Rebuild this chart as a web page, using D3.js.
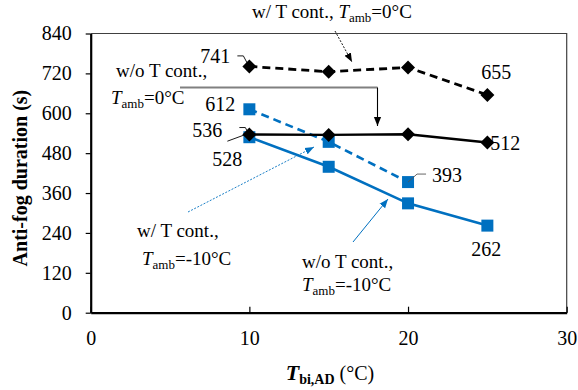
<!DOCTYPE html>
<html>
<head>
<meta charset="utf-8">
<script src="https://cdn.jsdelivr.net/npm/d3@7"></script>
<style>
  html,body{margin:0;padding:0;background:#fff;}
  svg{display:block;font-family:"Liberation Serif","Times New Roman",serif;}
</style>
</head>
<body>
<div id="chart"></div>
<script>
// chart values
const tbi = [10, 15, 20, 25];
const wCont0 = [741, 725, 738, 655];        // w/ T cont., Tamb=0
const woCont0 = [536, 535, 537, 512];       // w/o T cont., Tamb=0
const wContM10 = [612, 514, 393];           // w/ T cont., Tamb=-10
const woContM10 = [528, 439, 329, 262];     // w/o T cont., Tamb=-10
const yTicks = [0, 120, 240, 360, 480, 600, 720, 840];
const xTicks = [0, 10, 20, 30];

const W = 578, H = 390;
const L = 90.7, R = 566.7, T = 33.5, B = 312.7;
const BLUE = '#0070C0';
const SERIF = '"Liberation Serif","Times New Roman",serif';

const svg = d3.select('#chart').append('svg').attr('width', W).attr('height', H);
const x = d3.scaleLinear().domain([0, 30]).range([L, R]);
const y = d3.scaleLinear().domain([0, 840]).range([B, T]);

const defs = svg.append('defs');
function arrow(id, color, size){
  defs.append('marker').attr('id', id).attr('viewBox', '0 0 10 10')
    .attr('refX', 10).attr('refY', 5).attr('markerWidth', size).attr('markerHeight', size)
    .attr('markerUnits', 'userSpaceOnUse').attr('orient', 'auto')
    .append('path').attr('d', 'M0,1 L10,5 L0,9 Z').attr('fill', color);
}
arrow('ahK', '#000', 9);
arrow('ahB', BLUE, 9);

// frame (top / right thin)
svg.append('path').attr('d', `M${L},${T}H${R}V${B}`).attr('fill', 'none')
  .attr('stroke', '#404040').attr('stroke-width', 1.2);

// axes
const gy = svg.append('g').attr('transform', `translate(${L},0)`)
  .call(d3.axisLeft(y).tickValues(yTicks).tickSize(5).tickSizeOuter(0).tickPadding(14));
const gx = svg.append('g').attr('transform', `translate(0,${B})`)
  .call(d3.axisBottom(x).tickValues(xTicks).tickSize(-6).tickSizeOuter(0).tickPadding(18));
[gx, gy].forEach(g => {
  g.attr('font-family', SERIF).attr('font-size', 20);
  g.select('.domain').attr('stroke', '#000').attr('stroke-width', 2.2);
  g.selectAll('.tick line').attr('stroke', '#000').attr('stroke-width', 1.2);
  g.selectAll('.tick text').attr('fill', '#000');
});

// axis titles
svg.append('text').attr('transform', `translate(22,${(T + B) / 2 + 5}) rotate(-90)`)
  .attr('text-anchor', 'middle').attr('dominant-baseline', 'middle')
  .style('font-size', '20px').style('font-weight', 'bold').text('Anti-fog duration (s)');
const xt = svg.append('text').attr('x', 330).attr('y', 380).attr('text-anchor', 'middle')
  .style('font-size', '20px');
xt.append('tspan').style('font-weight', 'bold').style('font-style', 'italic').style('font-size', '22px').text('T');
xt.append('tspan').style('font-weight', 'bold').style('font-size', '14px').attr('dy', 4).text('bi,AD');
xt.append('tspan').attr('dy', -4).text(' (°C)');

// series
const line = d3.line().x((d, i) => x(tbi[i])).y(d => y(d));
function series(vals, color, width, dash, shape){
  svg.append('path').datum(vals).attr('d', line).attr('fill', 'none')
    .attr('stroke', color).attr('stroke-width', width).attr('stroke-dasharray', dash);
  svg.append('g').selectAll('path').data(vals).join('path')
    .attr('transform', (d, i) => `translate(${x(tbi[i])},${y(d)})`)
    .attr('d', shape === 'diamond' ? 'M0,-7L7,0L0,7L-7,0Z' : 'M-6,-6H6V6H-6Z')
    .attr('fill', color);
}
series(woContM10, BLUE, 2.6, null, 'square');
series(wContM10, BLUE, 2.6, '8,5', 'square');
series(woCont0, '#000', 2.4, null, 'diamond');
series(wCont0, '#000', 2.8, '8,5', 'diamond');

// value labels
function vlabel(xv, yv, dx, dy, anchor){
  svg.append('text').attr('x', x(xv) + dx).attr('y', y(yv) + dy).attr('text-anchor', anchor)
    .style('font-size', '20px').text(yv);
}
vlabel(10, wCont0[0], -19, -3, 'end');
vlabel(25, wCont0[3], -6, -16, 'start');
vlabel(10, woCont0[0], -27, 2, 'end');
vlabel(25, woCont0[3], 3, 7, 'start');
vlabel(10, wContM10[0], -14, 2, 'end');
vlabel(10, woContM10[0], -7, 29, 'end');
vlabel(20, wContM10[2], 24, 0, 'start');
vlabel(25, woContM10[3], -16, 30, 'start');

// leader lines for labels
const lead = (pts, c) => svg.append('path').attr('d', d3.line()(pts)).attr('fill', 'none')
  .attr('stroke', c || '#000').attr('stroke-width', 0.9);
lead([[x(10) - 12, y(741) - 10.5], [x(10) - 6, y(741) - 10.5], [x(10) - 2, y(741) - 3]]);
lead([[x(10) - 10, y(536) - 7], [x(10) - 4, y(536) - 7], [x(10) - 1, y(536) - 1]]);
lead([[x(10) - 22, y(528) + 4], [x(10) - 3, y(528) - 3]]);
lead([[x(20) + 18, y(393) - 8], [x(20) + 9, y(393) - 8], [x(20), y(393) + 0]], '#555');

// annotations
function ann(px, py, parts){
  const t = svg.append('text').attr('x', px).attr('y', py).style('font-size', '19px');
  parts.forEach(p => t.append('tspan').attr('dy', p.dy || 0)
    .style('font-style', p.it ? 'italic' : null).style('font-size', p.fs || null).text(p.t));
}
const tamb = v => [{t: 'T', it: true}, {t: 'amb', fs: '13px', dy: 4}, {t: '=' + v + '°C', dy: -4}];
ann(252, 18, [{t: 'w/ T cont., '}].concat(tamb('0')));
ann(116, 77, [{t: 'w/o T cont.,'}]);
ann(111, 104, tamb('0'));
ann(137, 237, [{t: 'w/ T cont.,'}]);
ann(142, 265, tamb('-10'));
ann(302, 268, [{t: 'w/o T cont.,'}]);
ann(302, 291, tamb('-10'));

// annotation arrows
svg.append('line').attr('x1', 335).attr('y1', 31).attr('x2', 352).attr('y2', 62)
  .attr('stroke', '#000').attr('stroke-width', 0.9).attr('stroke-dasharray', '2,1.5')
  .attr('marker-end', 'url(#ahK)');
svg.append('line').attr('x1', 180).attr('y1', 87.5).attr('x2', 377.5).attr('y2', 87.5)
  .attr('stroke', '#808080').attr('stroke-width', 1.8);
svg.append('line').attr('x1', 377.5).attr('y1', 87.5).attr('x2', 377.5).attr('y2', 126)
  .attr('stroke', '#000').attr('stroke-width', 1.1).attr('marker-end', 'url(#ahK)');
svg.append('line').attr('x1', 188).attr('y1', 212).attr('x2', 314).attr('y2', 147)
  .attr('stroke', BLUE).attr('stroke-width', 0.9).attr('stroke-dasharray', '2,1.5')
  .attr('marker-end', 'url(#ahB)');
svg.append('line').attr('x1', 353).attr('y1', 242).attr('x2', 388).attr('y2', 199)
  .attr('stroke', BLUE).attr('stroke-width', 1).attr('marker-end', 'url(#ahB)');
</script>
</body>
</html>
